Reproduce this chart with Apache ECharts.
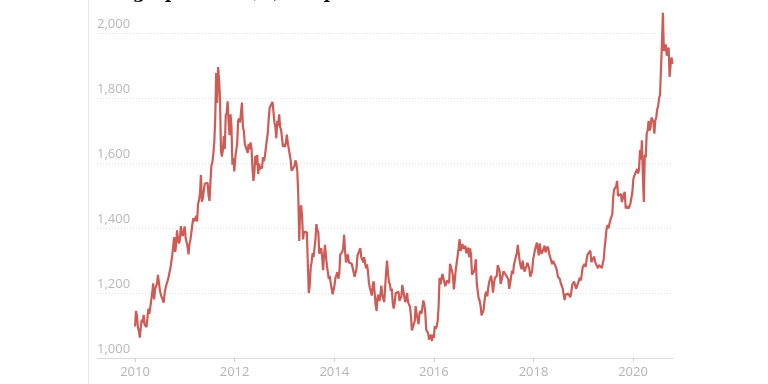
<!DOCTYPE html>
<html>
<head>
<meta charset="utf-8">
<script src="https://cdn.jsdelivr.net/npm/echarts@6/dist/echarts.min.js"></script>
<style>html,body{margin:0;padding:0;background:#fff;}#c{width:768px;height:384px;}</style>
</head>
<body>
<div id="c"></div>
<script>
// Weekly (Friday) gold price, USD per ounce, first value = 1 Jan 2010
const v2010 = [1097,1145,1130,1095,1083,1063,1093,1118,1109,1133,1102,1107,1095,1125,1152,1136,1142,1179,1200,1230,1180,1212,1207,1229,1256,1254,1209,1195,1194,1190,1170,1200,1215,1227,1236,1248,1246,1276,1296,1317,1345,1372,1326,1346,1393,1367,1352,1364,1406,1386,1375,1380,1405];
const v2011 = [1369,1365,1343,1319,1350,1364,1386,1410,1430,1420,1418,1437,1420,1474,1486,1504,1563,1481,1492,1492,1536,1542,1538,1539,1500,1483,1542,1594,1601,1628,1663,1738,1877,1785,1895,1857,1800,1637,1620,1640,1683,1643,1747,1754,1790,1725,1686,1750,1714,1595,1615,1574];
const v2012 = [1616,1639,1660,1730,1737,1725,1723,1786,1710,1698,1658,1663,1662,1631,1659,1642,1663,1645,1585,1545,1572,1622,1594,1625,1566,1598,1580,1590,1583,1618,1605,1620,1615,1670,1690,1736,1770,1773,1776,1788,1758,1725,1711,1676,1730,1714,1750,1711,1701,1696,1650,1658];
const v2013 = [1649,1662,1687,1662,1667,1667,1609,1576,1579,1579,1591,1608,1598,1575,1501,1360,1459,1470,1437,1365,1388,1394,1383,1387,1290,1200,1223,1279,1295,1323,1310,1311,1366,1412,1394,1387,1321,1325,1338,1310,1270,1316,1348,1313,1285,1287,1243,1253,1230,1236,1196,1210];
const v2014 = [1225,1247,1251,1264,1244,1262,1318,1320,1326,1338,1379,1330,1294,1299,1319,1294,1300,1300,1290,1293,1292,1250,1253,1275,1315,1316,1320,1338,1310,1303,1294,1310,1305,1276,1288,1267,1231,1216,1214,1192,1222,1236,1232,1164,1145,1185,1195,1175,1192,1223,1195,1193];
const v2015 = [1172,1217,1264,1300,1260,1234,1227,1206,1213,1168,1152,1170,1199,1200,1205,1204,1176,1178,1189,1225,1206,1190,1172,1181,1200,1172,1165,1158,1131,1085,1094,1094,1114,1160,1133,1121,1104,1138,1145,1136,1156,1177,1165,1142,1088,1084,1076,1057,1062,1072,1052,1072];
const v2016 = [1062,1098,1090,1097,1114,1157,1247,1227,1222,1259,1259,1254,1221,1223,1239,1233,1230,1290,1290,1268,1253,1211,1240,1272,1293,1316,1338,1366,1329,1323,1351,1336,1341,1345,1322,1323,1340,1310,1337,1317,1256,1253,1266,1276,1304,1230,1206,1183,1176,1160,1131,1132,1146];
const v2017 = [1173,1196,1204,1190,1215,1234,1239,1253,1233,1201,1229,1246,1245,1253,1286,1283,1266,1228,1228,1252,1267,1272,1267,1253,1256,1242,1213,1230,1251,1269,1259,1288,1290,1290,1324,1348,1320,1297,1283,1273,1300,1280,1266,1270,1283,1293,1292,1276,1250,1255,1267,1303];
const v2018 = [1318,1333,1333,1355,1333,1316,1353,1330,1320,1322,1314,1346,1325,1331,1343,1336,1319,1313,1322,1289,1299,1294,1299,1279,1268,1250,1255,1243,1230,1224,1214,1211,1178,1195,1201,1196,1198,1203,1187,1202,1226,1227,1235,1233,1213,1221,1226,1221,1247,1238,1258,1280];
const v2019 = [1286,1290,1280,1300,1318,1313,1320,1330,1295,1294,1297,1312,1295,1290,1295,1276,1286,1280,1286,1277,1283,1305,1340,1344,1397,1409,1399,1413,1425,1420,1443,1497,1519,1514,1528,1545,1499,1503,1497,1505,1480,1491,1504,1511,1460,1467,1464,1460,1465,1476,1478,1510];
const v2020 = [1550,1560,1557,1565,1582,1568,1580,1640,1610,1670,1560,1480,1625,1617,1690,1700,1730,1700,1708,1740,1735,1728,1690,1730,1740,1765,1774,1800,1810,1890,1970,2062,1945,1940,1965,1930,1945,1955,1865,1900,1925,1905];

const yTicks = [1000, 1200, 1400, 1600, 1800, 2000];
const xTickYears = [2010, 2012, 2014, 2016, 2018, 2020];
const titleText = 'a high price of $2,000 per ounce';

const values = [].concat(v2010, v2011, v2012, v2013, v2014, v2015, v2016, v2017, v2018, v2019, v2020);
const start = Date.UTC(2010, 0, 1);
const week = 7 * 24 * 3600 * 1000;
const data = values.map((v, i) => [start + i * week, v]);
const xTicks = xTickYears.map(y => Date.UTC(y, 0, 1));

const chart = echarts.init(document.getElementById('c'), null, {renderer: 'canvas'});
chart.setOption({
  animation: false,
  backgroundColor: '#fff',
  grid: {left: 97, right: 95, top: 33, bottom: 26, containLabel: false},
  xAxis: {
    type: 'value',
    min: Date.UTC(2009, 2, 28),
    max: Date.UTC(2020, 9, 20),
    splitLine: {show: false},
    axisLine: {show: true, lineStyle: {color: '#dcdcdc', width: 1}},
    axisTick: {show: true, length: 4, customValues: xTicks, lineStyle: {color: '#cfcfcf'}},
    axisLabel: {
      customValues: xTicks,
      margin: 8,
      color: '#b5b5b5',
      fontSize: 13,
      fontFamily: 'Open Sans',
      formatter: v => String(new Date(v).getUTCFullYear())
    }
  },
  yAxis: {
    type: 'value',
    min: yTicks[0],
    max: yTicks[yTicks.length - 1],
    interval: 200,
    axisLine: {show: false},
    axisTick: {show: false},
    splitLine: {show: true, lineStyle: {color: '#e0e0e0', type: [1, 2], width: 1}},
    axisLabel: {
      inside: true,
      margin: 0,
      verticalAlign: 'bottom',
      padding: [0, 0, 2, 0],
      color: '#b8b8b8',
      fontSize: 13,
      fontFamily: 'Open Sans',
      formatter: v => v.toString().replace(/\B(?=(\d{3})+(?!\d))/g, ',')
    }
  },
  series: [{
    type: 'line',
    data: data,
    showSymbol: false,
    clip: false,
    lineStyle: {color: '#cd5b56', width: 2.2},
    itemStyle: {color: '#cd5b56'}
  }],
  graphic: [
    {type: 'line', shape: {x1: 88.5, y1: 0, x2: 88.5, y2: 384}, style: {stroke: '#e6e6e6', lineWidth: 1}, silent: true},
    {type: 'text', x: 95, y: 2, style: {text: titleText, font: 'bold 18px "DejaVu Serif"', fill: '#111', verticalAlign: 'bottom', align: 'left'}, silent: true}
  ]
});
</script>
</body>
</html>
